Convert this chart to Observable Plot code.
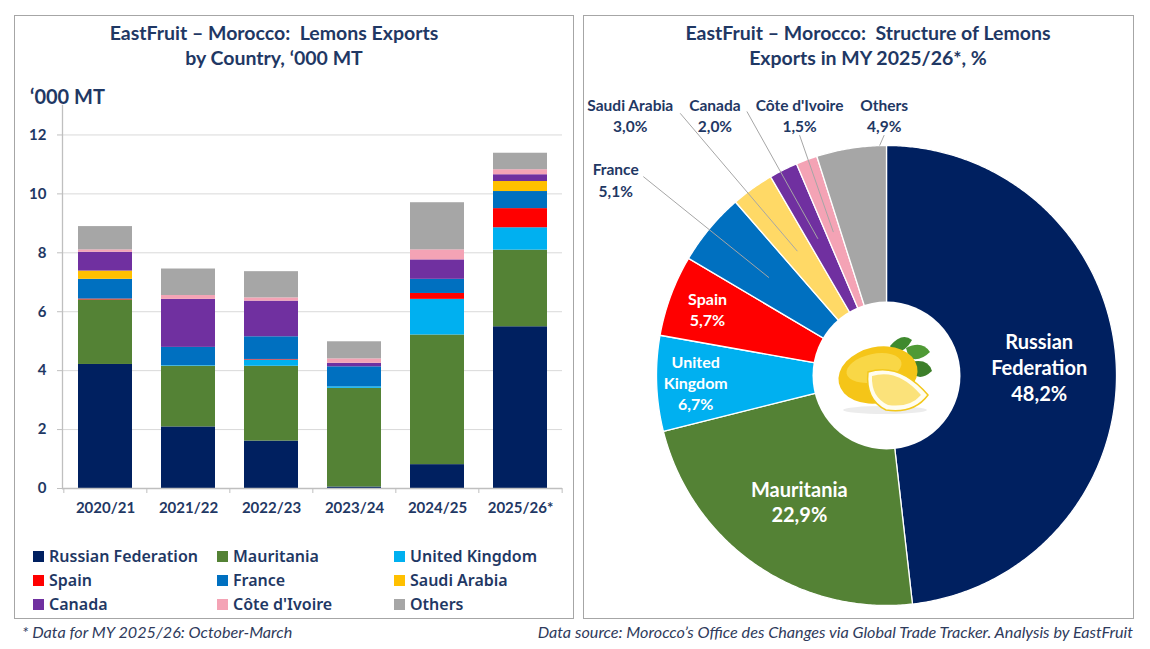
<!DOCTYPE html>
<html><head><meta charset="utf-8">
<script src="https://cdn.jsdelivr.net/npm/d3@7"></script>
<script src="https://cdn.jsdelivr.net/npm/@observablehq/plot@0.6"></script>
<style>
body{margin:0;background:#fff;}
#wrap{position:relative;width:1150px;height:649px;overflow:hidden;font-family:Lato, sans-serif;color:#1F3864;background:#fff;}
.panel{position:absolute;border:1.5px solid #A6A6A6;box-sizing:border-box;}
.title{position:absolute;text-align:center;font-weight:700;font-size:19.5px;line-height:25px;color:#1F3864;white-space:nowrap;}
.abs{position:absolute;}
.leg{position:absolute;font-family:"Noto Sans",sans-serif;font-weight:600;font-size:16px;color:#1F3864;white-space:nowrap;line-height:18px;}
.leg span.sw{display:inline-block;width:11px;height:11px;margin-right:5px;vertical-align:0px;}
.foot{position:absolute;font-style:italic;font-size:16.2px;color:#2F3B5C;white-space:nowrap;}
</style></head><body>
<div id="wrap">
  <div class="panel" style="left:14px;top:15px;width:560px;height:604px;"></div>
  <div class="panel" style="left:583px;top:15px;width:551px;height:604px;"></div>
  <div class="title" style="left:14px;top:20px;width:520px;">EastFruit – Morocco:&nbsp; Lemons Exports<br>by Country, ‘000 MT</div>
  <div class="title" style="left:608px;top:20px;width:520px;">EastFruit – Morocco:&nbsp; Structure of Lemons<br>Exports in MY 2025/26*, %</div>
  <div class="abs" style="left:30px;top:84px;font-weight:700;font-size:20px;">‘000 MT</div>
  <div id="bars" class="abs" style="left:14px;top:95px;"></div>
  <div id="legend"></div>
  <div id="pie" class="abs" style="left:583px;top:80px;"></div>
  <svg class="abs" style="left:810px;top:300px;" width="150" height="150" viewBox="0 0 150 150">
    <ellipse cx="75" cy="110" rx="42" ry="4" fill="#ececec"/>
    <path d="M80 46 Q92 32 102 40 Q96 52 84 53 Z" fill="#3f8a2e"/>
    <path d="M96 48 Q112 40 120 52 Q110 62 99 58 Z" fill="#4f9a35"/>
    <path d="M101 62 Q118 58 122 71 Q111 81 103 74 Z" fill="#3d7f2a"/>
    <ellipse cx="68" cy="75" rx="40" ry="28" transform="rotate(-12 68 75)" fill="#F5C518"/>
    <ellipse cx="64" cy="68" rx="28" ry="14" transform="rotate(-12 64 68)" fill="#F9D746"/>
    <path d="M58 72 Q90 62 118 95 Q104 114 76 110 Q55 100 58 72 Z" fill="#FFFDF0" stroke="#F3C81B" stroke-width="1.5"/>
    <path d="M62 76 Q88 68 111 95 Q100 108 78 105 Q61 97 62 76 Z" fill="#FBE27A"/>
  </svg>
  <div class="foot" style="left:22px;top:622px;">* Data for MY 2025/26: October-March</div>
  <div class="foot" style="right:17px;top:622px;">Data source: Morocco’s Office des Changes via Global Trade Tracker. Analysis by EastFruit</div>
</div>
<script>
// ---------- DATA ----------
const years = ["2020/21","2021/22","2022/23","2023/24","2024/25","2025/26*"];
const countries = ["Russian Federation","Mauritania","United Kingdom","Spain","France","Saudi Arabia","Canada","Côte d'Ivoire","Others"];
const russia     = [4.21, 2.09, 1.61, 0.05, 0.81, 5.49];
const mauritania = [2.19, 2.06, 2.54, 3.35, 4.40, 2.60];
const uk         = [0.00, 0.02, 0.21, 0.05, 1.21, 0.76];
const spain      = [0.03, 0.00, 0.02, 0.00, 0.20, 0.65];
const france     = [0.67, 0.62, 0.77, 0.68, 0.48, 0.58];
const saudi      = [0.28, 0.00, 0.00, 0.00, 0.00, 0.34];
const canada     = [0.64, 1.63, 1.21, 0.12, 0.66, 0.23];
const cdi        = [0.08, 0.13, 0.11, 0.15, 0.34, 0.17];
const others     = [0.79, 0.90, 0.89, 0.58, 1.60, 0.56];
const yTicks = [0, 2, 4, 6, 8, 10, 12];
// pie: structure of MY 2025/26 exports, %
const pieNames  = ["Russian Federation","Mauritania","United Kingdom","Spain","France","Saudi Arabia","Canada","Côte d'Ivoire","Others"];
const pieLabels = ["Russian\nFederation","Mauritania","United\nKingdom","Spain","France","Saudi Arabia","Canada","Côte d'Ivoire","Others"];
const pieShares = [48.2, 22.9, 6.7, 5.7, 5.1, 3.0, 2.0, 1.5, 4.9];

// ---------- STYLE ----------
const barColors = ["#002060","#548235","#00B0F0","#FF0000","#0070C0","#FFC000","#7030A0","#F4A3B5","#A6A6A6"];
const pieColors = ["#002060","#548235","#00B0F0","#FF0000","#0070C0","#FFD966","#7030A0","#F4A3B5","#A6A6A6"];

// ---------- BAR CHART ----------
const series = [russia, mauritania, uk, spain, france, saudi, canada, cdi, others];
const rows = [];
years.forEach((yr, i) => countries.forEach((c, j) => rows.push({year: yr, country: c, value: series[j][i]})));

const W = 555, H = 428, ML = 48, MR = 7, MT = 10, MB = 35;
const step = (W - ML - MR) / years.length;

const bars = Plot.plot({
  width: W, height: H, marginLeft: ML, marginRight: MR, marginTop: MT, marginBottom: MB,
  style: {fontFamily: "Lato, sans-serif", fontSize: "15px", fontWeight: "bold", color: "#1F3864", background: "transparent"},
  x: {domain: years, paddingInner: 0.35, paddingOuter: 0.175, label: null},
  y: {domain: [0, 13], label: null},
  color: {domain: countries, range: barColors},
  marks: [
    Plot.gridY(yTicks.filter(t => t > 0), {stroke: "#D9D9D9", strokeOpacity: 1}),
    Plot.barY(rows, {x: "year", y: "value", fill: "country", order: countries}),
    Plot.ruleY([0], {stroke: "#BFBFBF", strokeWidth: 1.3}),
    Plot.frame({anchor: "left", stroke: "#BFBFBF", strokeWidth: 1.3}),
    Plot.axisY({ticks: yTicks, tickSize: 5, tickPadding: 11, stroke: "#BFBFBF", fill: "#1F3864", fontSize: 15, fontWeight: "bold", label: null}),
    Plot.axisX({tickSize: 0, tickPadding: 14, fill: "#1F3864", fontSize: 15, fontWeight: "bold", label: null}),
    Plot.axisX({tickSize: 5, text: null, dx: -step / 2, stroke: "#BFBFBF", label: null}),
    Plot.axisX({ticks: [years[years.length - 1]], tickSize: 5, text: null, dx: step / 2, stroke: "#BFBFBF", label: null})
  ]
});
document.getElementById("bars").appendChild(bars);

// legend
const legCols = [33, 217, 394], legRows = [547, 571, 595];
const legend = document.getElementById("legend");
countries.forEach((c, i) => {
  const d = document.createElement("div");
  d.className = "leg";
  d.style.left = legCols[i % 3] + "px";
  d.style.top = legRows[Math.floor(i / 3)] + "px";
  d.innerHTML = `<span class="sw" style="background:${barColors[i]}"></span>${c}`;
  legend.appendChild(d);
});

// ---------- PIE ----------
const pieData = pieNames.map((n, i) => ({name: n, label: pieLabels[i], share: pieShares[i], color: pieColors[i]}));
const arcs = d3.pie().sort(null).value(d => d.share)(pieData);
const piePts = [];
arcs.forEach(a => {
  const n = Math.max(2, Math.ceil((a.endAngle - a.startAngle) / (Math.PI / 360)));
  piePts.push({name: a.data.name, color: a.data.color, x: 0, y: 0});
  for (let k = 0; k <= n; k++) {
    const t = a.startAngle + (a.endAngle - a.startAngle) * k / n;
    piePts.push({name: a.data.name, color: a.data.color, x: Math.sin(t), y: Math.cos(t)});
  }
  piePts.push({name: a.data.name, color: a.data.color, x: 0, y: 0});
});
const mid = a => (a.startAngle + a.endAngle) / 2;
const fmt = v => v.toFixed(1).replace(".", ",") + "%";

// inside labels
const inside = arcs.filter(a => a.data.share >= 5.5).map(a => {
  const r = a.data.share > 15 ? 0.665 : 0.83;
  return {x: r * Math.sin(mid(a)), y: r * Math.cos(mid(a)), text: a.data.label + "\n" + fmt(a.data.share), big: a.data.share > 15};
});
// outside labels
const outsideArcs = arcs.filter(a => a.data.share < 5.5);
const topRow = outsideArcs.filter(a => a.data.name !== "France");
const othersArc = topRow[topRow.length - 1];
const rowY = 1.135, gap = 0.368;
const outside = [];
const leaders = [];
outsideArcs.forEach(a => {
  let lx, ly, sx, sy, er = 0.665, ea = mid(a);
  if (a.data.name === "France") {
    const ang = mid(a) - 3.8 * Math.PI / 180;
    lx = 1.455 * Math.sin(ang); ly = 1.455 * Math.cos(ang);
    sx = lx + 0.12; sy = ly + 0.01;
  } else {
    const idx = topRow.indexOf(a);
    const ox = Math.sin(othersArc.endAngle) - 0.01;
    lx = ox - (topRow.length - 1 - idx) * gap; ly = rowY;
    if (a.data.name === "Saudi Arabia") { sx = lx + 0.217; sy = ly + 0.005; }
    else if (a.data.name === "Canada") { sx = lx + 0.139; sy = ly + 0.013; }
    else { sx = lx; sy = ly - 0.09; }
    if (a === othersArc) { er = 1.0; ea = a.endAngle - 0.03; }
  }
  outside.push({x: lx, y: ly, text: a.data.label + "\n" + fmt(a.data.share)});
  leaders.push({x1: sx, y1: sy, x2: er * Math.sin(ea), y2: er * Math.cos(ea)});
});

const PW = 550, PH = 535;
const pie = Plot.plot({
  width: PW, height: PH, marginLeft: 73, marginRight: 17, marginTop: 65, marginBottom: 10,
  style: {fontFamily: "Lato, sans-serif", fontWeight: "bold", background: "transparent", overflow: "visible"},
  x: {domain: [-1, 1], axis: null},
  y: {domain: [-1, 1], axis: null},
  color: {type: "identity"},
  marks: [
    Plot.line(piePts, {x: "x", y: "y", z: "name", fill: "color", stroke: "white", strokeWidth: 1.3, strokeLinejoin: "round", curve: "linear"}),
    Plot.dot([{x: 0, y: 0}], {x: "x", y: "y", r: 74, fill: "white", stroke: "none"}),
    Plot.link(leaders, {x1: "x1", y1: "y1", x2: "x2", y2: "y2", stroke: "#A6A6A6", strokeWidth: 1}),
    Plot.text(inside.filter(d => d.big), {x: "x", y: "y", text: "text", fill: "white", fontSize: 20, lineHeight: 1.3, fontWeight: "bold"}),
    Plot.text(inside.filter(d => !d.big), {x: "x", y: "y", text: "text", fill: "white", fontSize: 16, lineHeight: 1.32, fontWeight: "bold"}),
    Plot.text(outside, {x: "x", y: "y", text: "text", fill: "#1F3864", fontSize: 15.5, lineHeight: 1.4, fontWeight: "bold"})
  ]
});
document.getElementById("pie").appendChild(pie);
</script>
</body></html>
